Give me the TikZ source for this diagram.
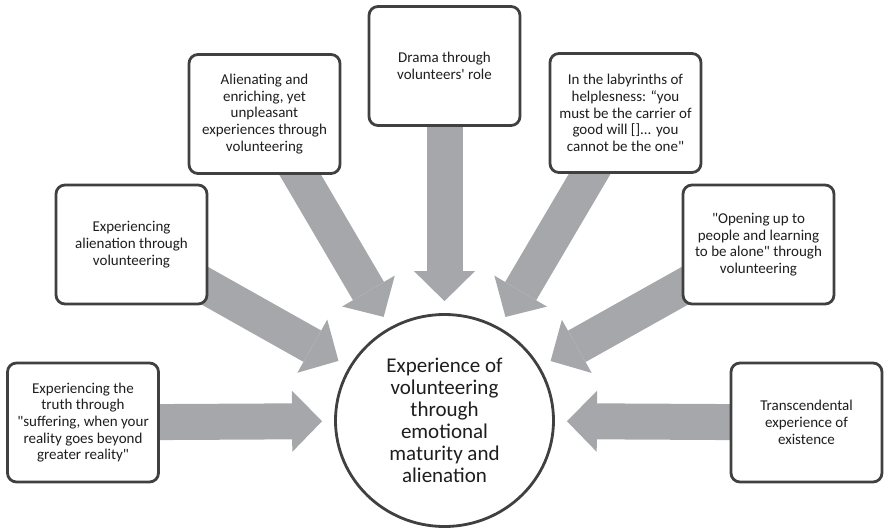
\documentclass[tikz,border=0pt]{standalone}
\usepackage{fontspec}
\newfontfamily\boxfont{Carlito}
\usetikzlibrary{arrows.meta,shapes.geometric,backgrounds}
\definecolor{arrowgray}{RGB}{166,167,170}
\definecolor{edgegray}{RGB}{64,64,64}
\definecolor{textgray}{RGB}{30,30,30}
\begin{document}
\begin{tikzpicture}[x=1pt,y=-1pt,
  card/.style={draw=edgegray, line width=2.8pt, rounded corners=9pt, fill=white,
    minimum width=151pt, minimum height=119pt, align=center, inner sep=0pt,
    font=\boxfont\fontsize{15}{16.7}\selectfont, text=textgray},
  hub/.style={ellipse, draw=edgegray, line width=2.8pt, fill=white,
    minimum width=218pt, minimum height=212pt, align=center, inner sep=0pt,
    font=\boxfont\fontsize{21}{22}\selectfont, text=textgray},
  flow/.style={draw=arrowgray, line width=36pt,
    -{Triangle[length=30pt,width=61pt,line width=0pt]}, shorten >=12pt}]
\useasboundingbox (0,0) rectangle (884,530);
\node[hub] (c) at (444.5,420.5) {Experience of\\volunteering\\through\\emotional\\maturity and\\alienation};
\node[card] (b1) at (83,422.5) {Experiencing the\\truth through\\"suffering, when your\\reality goes beyond\\greater reality"};
\node[card] (b2) at (131.5,244.5) {Experiencing\\alienation through\\volunteering};
\node[card] (b3) at (264.5,114) {Alienating and\\enriching, yet\\unpleasant\\experiences through\\volunteering};
\node[card] (b4) at (444.5,66) {Drama through\\volunteers' role};
\node[card] (b5) at (625.5,113) {In the labyrinths of\\helplesness: “you\\must be the carrier of\\good will []... you\\cannot be the one"};
\node[card] (b6) at (758.5,244.5) {"Opening up to\\people and learning\\to be alone" through\\volunteering};
\node[card] (b7) at (806.5,422.5) {Transcendental\\experience of\\existence};
\begin{scope}[on background layer]
\foreach \b in {b1,b2,b3,b4,b5,b6,b7}{
  \draw[flow] (\b.center) -- (c);
}
\end{scope}
\end{tikzpicture}
\end{document}
